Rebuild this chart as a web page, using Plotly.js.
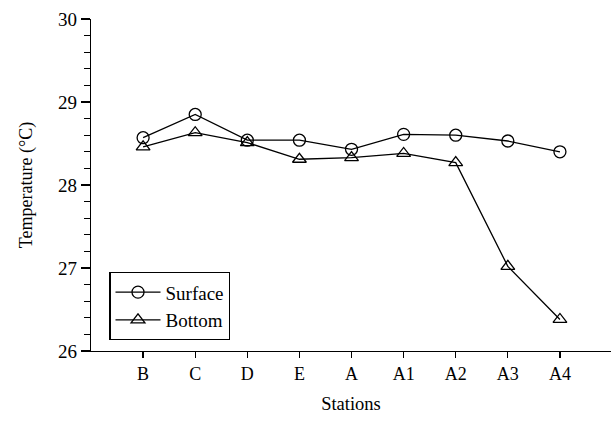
<!DOCTYPE html>
<html>
<head>
<meta charset="utf-8">
<script src="https://cdn.plot.ly/plotly-3.0.1.min.js"></script>
<style>html,body{margin:0;padding:0;background:#fff;}#chart{width:614px;height:421px;}</style>
</head>
<body>
<div id="chart"></div>
<script>
const stations = ["B", "C", "D", "E", "A", "A1", "A2", "A3", "A4"];
const surface = [28.57, 28.85, 28.54, 28.54, 28.43, 28.61, 28.60, 28.53, 28.40];
const bottom = [28.46, 28.63, 28.51, 28.31, 28.33, 28.38, 28.27, 27.02, 26.38];
const yTicks = [26, 27, 28, 29, 30];

const font = {family: "Liberation Serif, Times New Roman, serif", color: "#000000"};

const traces = [
  {
    x: stations, y: surface, name: "Surface", type: "scatter", mode: "lines+markers",
    line: {color: "#000", width: 1.3},
    marker: {symbol: "circle-open", size: 12, color: "#000", line: {width: 1.3, color: "#000"}}
  },
  {
    x: stations, y: bottom, name: "Bottom", type: "scatter", mode: "lines+markers",
    line: {color: "#000", width: 1.3},
    marker: {symbol: "triangle-up-open", size: 12, color: "#000", line: {width: 1.3, color: "#000"}}
  }
];

const layout = {
  width: 614, height: 421,
  margin: {l: 91, r: 3, t: 19, b: 70},
  paper_bgcolor: "#fff", plot_bgcolor: "#fff",
  font: Object.assign({size: 17}, font),
  showlegend: true,
  legend: {
    x: 0.035, y: 0.238, xanchor: "left", yanchor: "top",
    bordercolor: "#000", borderwidth: 1.3, bgcolor: "#fff",
    font: Object.assign({size: 19}, font),
    tracegroupgap: 0, itemwidth: 45, entrywidth: 140, entrywidthmode: "pixels"
  },
  xaxis: {
    type: "category", categoryorder: "array", categoryarray: stations,
    range: [-1, 8.98],
    showline: true, linecolor: "#000", linewidth: 1.3,
    ticks: "outside", ticklen: 6, tickwidth: 1.3, tickcolor: "#000",
    showgrid: false, zeroline: false,
    tickfont: Object.assign({size: 18}, font),
    title: {text: "Stations", font: Object.assign({size: 18.5}, font), standoff: 14}
  },
  yaxis: {
    range: [26, 30],
    tickvals: yTicks, ticktext: yTicks.map(String),
    showline: true, linecolor: "#000", linewidth: 1.3,
    ticks: "outside", ticklen: 9, tickwidth: 1.3, tickcolor: "#000",
    minor: {dtick: 0.2, ticks: "outside", ticklen: 6, tickwidth: 1.3, tickcolor: "#000", showgrid: false},
    showgrid: false, zeroline: false,
    tickfont: Object.assign({size: 19}, font),
    title: {text: "Temperature (°C)", font: Object.assign({size: 18}, font), standoff: 20}
  }
};

Plotly.newPlot("chart", traces, layout, {displayModeBar: false, staticPlot: true});
</script>
</body>
</html>
